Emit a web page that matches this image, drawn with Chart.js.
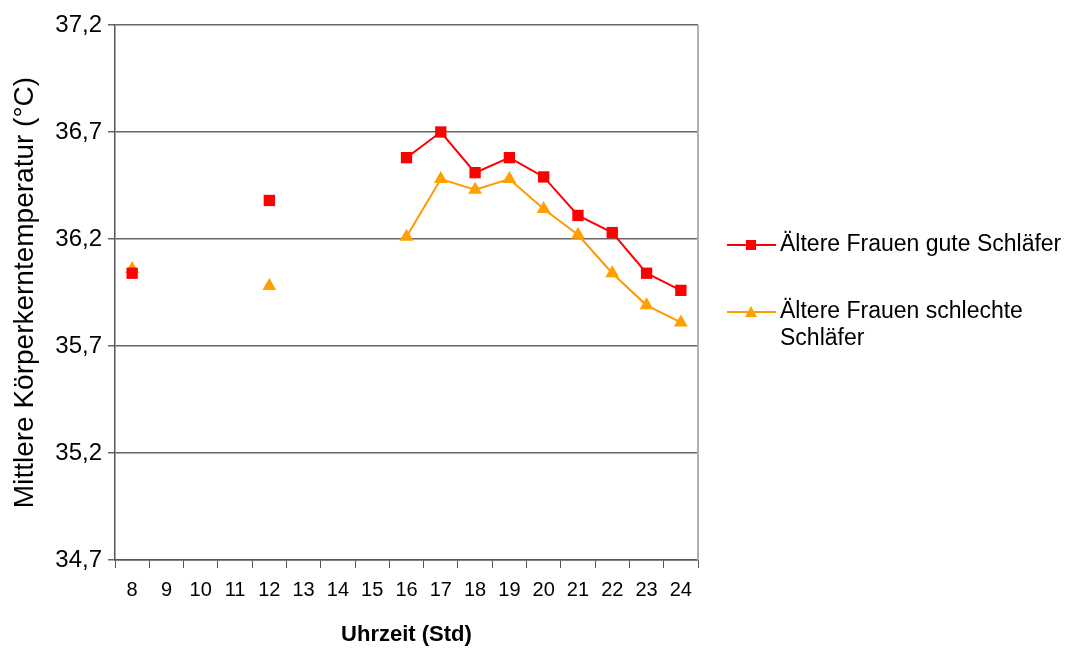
<!DOCTYPE html>
<html>
<head>
<meta charset="utf-8">
<script src="https://cdn.jsdelivr.net/npm/chart.js@4"></script>
<style>
  html, body { margin: 0; padding: 0; background: #fff; }
  #wrap { width: 1067px; height: 648px; }
</style>
</head>
<body>
<div id="wrap"><canvas id="chart" width="1067" height="648"></canvas></div>
<script>
const hours = ['8', '9', '10', '11', '12', '13', '14', '15', '16', '17', '18', '19', '20', '21', '22', '23', '24'];
const guteSchlaefer = [36.04, null, null, null, 36.38, null, null, null, 36.58, 36.70, 36.51, 36.58, 36.49, 36.31, 36.23, 36.04, 35.96];
const schlechteSchlaefer = [36.06, null, null, null, 35.98, null, null, null, 36.21, 36.48, 36.43, 36.48, 36.34, 36.22, 36.04, 35.89, 35.81];
const legendLabels = [['Ältere Frauen gute Schläfer'], ['Ältere Frauen schlechte', 'Schläfer']];

const font = 'Arial, "Liberation Sans", sans-serif';

// legend on the right and a light frame line, drawn on the canvas
const sideLegend = {
    id: 'sideLegend',
    afterDraw(chart) {
        const c = chart.ctx;
        const area = chart.chartArea;
        c.save();
        c.strokeStyle = '#b0b0b0';
        c.lineWidth = 2;
        c.beginPath();
        c.moveTo(area.right, area.top);
        c.lineTo(area.right, area.bottom);
        c.stroke();

        const rows = [245, 312];
        chart.data.datasets.forEach((ds, i) => {
            const y = rows[i];
            c.strokeStyle = ds.borderColor;
            c.lineWidth = 2;
            c.beginPath();
            c.moveTo(727, y);
            c.lineTo(776, y);
            c.stroke();
            c.fillStyle = ds.pointBackgroundColor;
            if (ds.pointStyle === 'rect') {
                c.fillRect(746, y - 5, 10, 10);
            } else {
                c.beginPath();
                c.moveTo(751, y - 6);
                c.lineTo(757, y + 5);
                c.lineTo(745, y + 5);
                c.closePath();
                c.fill();
            }
            c.fillStyle = '#000';
            c.font = '23px ' + font;
            c.textBaseline = 'middle';
            legendLabels[i].forEach((line, j) => {
                c.fillText(line, 780, y + j * 27);
            });
        });
        c.restore();
    }
};

new Chart(document.getElementById('chart'), {
    type: 'line',
    data: {
        labels: hours,
        datasets: [{
            label: 'Ältere Frauen gute Schläfer',
            data: guteSchlaefer,
            borderColor: '#ff0000',
            backgroundColor: '#ff0000',
            pointBackgroundColor: '#ff0000',
            pointBorderColor: '#ff0000',
            pointStyle: 'rect',
            pointRadius: 8,
            pointBorderWidth: 0,
            borderWidth: 2,
            spanGaps: false
        }, {
            label: 'Ältere Frauen schlechte Schläfer',
            data: schlechteSchlaefer,
            borderColor: '#ff9900',
            backgroundColor: '#ffa000',
            pointBackgroundColor: '#ffa000',
            pointBorderColor: '#ffa000',
            pointStyle: 'triangle',
            pointRadius: 8,
            pointBorderWidth: 0,
            borderWidth: 2,
            spanGaps: false
        }]
    },
    options: {
        responsive: false,
        animation: false,
        layout: { padding: { left: 0, right: 369, top: 25, bottom: 0 } },
        plugins: {
            legend: { display: false },
            tooltip: { enabled: false }
        },
        scales: {
            x: {
                offset: true,
                grid: {
                    offset: true,
                    drawOnChartArea: false,
                    drawTicks: true,
                    tickLength: 8,
                    color: '#555'
                },
                border: { display: true, color: '#555', width: 1.5 },
                ticks: {
                    color: '#000',
                    font: { size: 20, family: font },
                    padding: 10,
                    maxRotation: 0,
                    autoSkip: false
                },
                title: {
                    display: true,
                    text: 'Uhrzeit (Std)',
                    color: '#000',
                    font: { size: 22, weight: 'bold', family: font },
                    padding: { top: 12, bottom: 0 }
                },
                afterFit(scale) { scale.height = 88; }
            },
            y: {
                min: 34.7,
                max: 37.2,
                grid: {
                    color: '#666',
                    lineWidth: 1.5,
                    tickLength: 7
                },
                border: { display: true, color: '#555', width: 1.5 },
                ticks: {
                    stepSize: 0.5,
                    color: '#000',
                    font: { size: 24, family: font },
                    padding: 6,
                    callback: v => v.toFixed(1).replace('.', ',')
                },
                title: {
                    display: true,
                    text: 'Mittlere Körperkerntemperatur (°C)',
                    color: '#000',
                    font: { size: 28, family: font },
                    padding: { top: 8, bottom: 2 }
                },
                afterFit(scale) { scale.width = 115; }
            }
        }
    },
    plugins: [sideLegend]
});
</script>
</body>
</html>
